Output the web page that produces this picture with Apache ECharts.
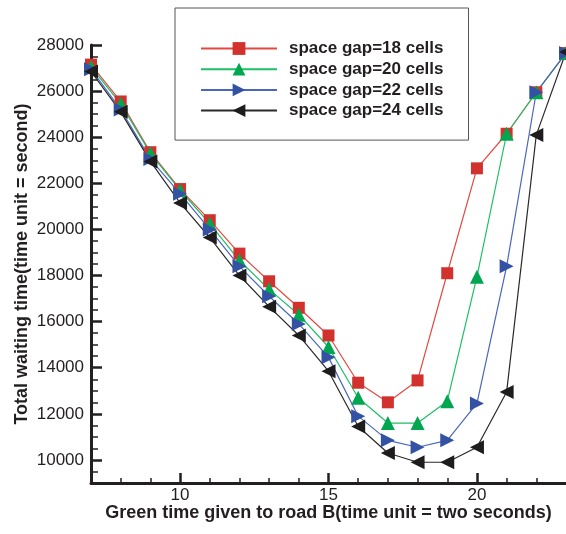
<!DOCTYPE html>
<html>
<head>
<meta charset="utf-8">
<title>Total waiting time</title>
<script src="https://cdn.jsdelivr.net/npm/echarts@6.0.0/dist/echarts.min.js"></script>
<style>
  html, body { margin: 0; padding: 0; background: #fff; }
  #chart { width: 566px; height: 534px; }
</style>
</head>
<body>
<div id="chart"></div>
<script>
// green time given to road B
const greenTime = [7, 8, 9, 10, 11, 12, 13, 14, 15, 16, 17, 18, 19, 20, 21, 22, 23]

// total waiting time for each space gap
const gap18 = [27150, 25550, 23350, 21750, 20400, 18950, 17750, 16600, 15400, 13350, 12500, 13450, 18100, 22650, 24150, 25950, 27650]
const gap20 = [27050, 25450, 23300, 21700, 20250, 18650, 17400, 16300, 14900, 12700, 11600, 11600, 12550, 17950, 24150, 25950, 27650]
const gap22 = [26950, 25200, 23050, 21550, 20000, 18400, 17100, 15900, 14450, 11900, 10850, 10550, 10850, 12450, 18400, 25950, 27650]
const gap24 = [26850, 25100, 22950, 21150, 19650, 18000, 16650, 15400, 13850, 11450, 10300, 9900, 9900, 10550, 12950, 24100, 27700]

const xTickLabels = [10, 15, 20]
const yTickLabels = [10000, 12000, 14000, 16000, 18000, 20000, 22000, 24000, 26000, 28000]

const font = 'Liberation Sans, Arial, sans-serif'
const ink = '#231f20'

// minor ticks between the labelled ones
const xMinor = []
for (let v = 8; v <= 22; v++) {
  if (xTickLabels.indexOf(v) < 0) xMinor.push(v)
}
const yMinor = []
for (let v = 9500; v < 28000; v += 500) {
  if (yTickLabels.indexOf(v) < 0) yMinor.push(v)
}

const pairs = (ys) => greenTime.map((x, i) => [x, ys[i]])

const makeSeries = (name, ys, color, lineColor, symbol, size, rotate) => ({
  name: name,
  type: 'line',
  data: pairs(ys),
  symbol: symbol,
  symbolSize: size,
  symbolRotate: rotate,
  itemStyle: { color: color },
  lineStyle: { color: lineColor, width: 1.2 },
  emphasis: { disabled: true }
})

const chart = echarts.init(document.getElementById('chart'))

chart.setOption({
  animation: false,
  textStyle: { fontFamily: font },
  grid: { left: 91, right: -5, top: 45, bottom: 51 },
  legend: {
    orient: 'vertical',
    left: 175,
    top: 8,
    padding: [32, 25, 21, 25],
    borderColor: '#555',
    borderWidth: 1,
    itemWidth: 76,
    itemHeight: 16,
    itemGap: 3.7,
    textStyle: { fontFamily: font, fontSize: 17, fontWeight: 'bold', color: ink, padding: [0, 0, 0, 7] },
    data: ['space gap=18 cells', 'space gap=20 cells', 'space gap=22 cells', 'space gap=24 cells']
  },
  xAxis: [{
    type: 'value',
    min: 7,
    max: 23,
    name: 'Green time given to road B(time unit = two seconds)',
    nameLocation: 'middle',
    nameMoveOverlap: false,
    nameGap: 21,
    nameTextStyle: { fontFamily: font, fontSize: 18, fontWeight: 'bold', color: ink },
    splitLine: { show: false },
    axisLine: { onZero: false, lineStyle: { color: ink, width: 3 } },
    axisTick: { inside: true, length: 10, customValues: xTickLabels, lineStyle: { color: ink, width: 2.5 } },
    axisLabel: { customValues: xTickLabels, margin: 4, fontSize: 17, color: ink, formatter: (v) => String(v) }
  }, {
    type: 'value',
    min: 7,
    max: 23,
    position: 'bottom',
    splitLine: { show: false },
    axisLine: { show: false },
    axisTick: { inside: true, length: 5, customValues: xMinor, lineStyle: { color: ink, width: 1.5 } },
    axisLabel: { show: false }
  }],
  yAxis: [{
    type: 'value',
    min: 9000,
    max: 28000,
    name: 'Total waiting time(time unit = second)',
    nameLocation: 'middle',
    nameMoveOverlap: false,
    nameGap: 60,
    nameTextStyle: { fontFamily: font, fontSize: 18, fontWeight: 'bold', color: ink },
    splitLine: { show: false },
    axisLine: { onZero: false, lineStyle: { color: ink, width: 3 } },
    axisTick: { inside: true, length: 11, customValues: yTickLabels, lineStyle: { color: ink, width: 2.5 } },
    axisLabel: { customValues: yTickLabels, margin: 7, fontSize: 17, color: ink, formatter: (v) => String(v) }
  }, {
    type: 'value',
    min: 9000,
    max: 28000,
    position: 'left',
    splitLine: { show: false },
    axisLine: { show: false },
    axisTick: { inside: true, length: 7, customValues: yMinor, lineStyle: { color: ink, width: 1.5 } },
    axisLabel: { show: false }
  }],
  series: [
    makeSeries('space gap=18 cells', gap18, '#d2322d', '#e04a44', 'rect', 12, 0),
    makeSeries('space gap=20 cells', gap20, '#00a650', '#1fbf66', 'triangle', 14, 0),
    makeSeries('space gap=22 cells', gap22, '#3452a4', '#4a66bd', 'triangle', 14, -90),
    makeSeries('space gap=24 cells', gap24, '#1e1c1d', '#2a2a2a', 'triangle', 14, 90)
  ]
})

window.addEventListener('resize', () => {
  chart.resize()
})
</script>
</body>
</html>
